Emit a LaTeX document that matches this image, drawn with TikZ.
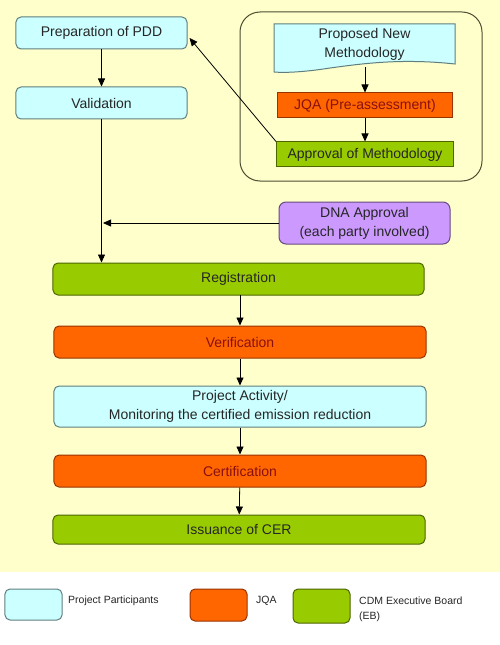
\documentclass[tikz,border=0pt]{standalone}
\usepackage{fontspec}
\setmainfont{Liberation Sans}
\usetikzlibrary{arrows.meta,calc}
\definecolor{bgc}{HTML}{FFFFCC}
\definecolor{pblue}{HTML}{CCFFFF}
\definecolor{pblueb}{HTML}{5F7F7F}
\definecolor{porange}{HTML}{FF6600}
\definecolor{porangeb}{HTML}{993300}
\definecolor{pgreen}{HTML}{99CC00}
\definecolor{pgreenb}{HTML}{4D6600}
\definecolor{ppurple}{HTML}{CC99FF}
\definecolor{ppurpleb}{HTML}{664C80}
\definecolor{redtext}{HTML}{8A1010}
\definecolor{cont}{HTML}{4D4D33}
\tikzset{
  box/.style={draw, line width=1bp, rounded corners=5bp, inner sep=0pt, align=center,
    font=\fontsize{14bp}{19bp}\selectfont, text=black!85},
  bluebox/.style={box, fill=pblue, draw=pblueb},
  orangebox/.style={box, fill=porange, draw=porangeb, text=redtext},
  greenbox/.style={box, fill=pgreen, draw=pgreenb},
  purplebox/.style={box, fill=ppurple, draw=ppurpleb, rounded corners=7bp},
  sharp/.style={rounded corners=0pt},
  arr/.style={line width=0.8bp, -{Triangle[length=8bp,width=7bp]}},
  legtext/.style={font=\fontsize{10.5bp}{15bp}\selectfont, text=black!85, inner sep=0pt, align=left},
}
\begin{document}
\begin{tikzpicture}[x=1bp,y=-1bp]
\useasboundingbox (0,0) rectangle (500,645);
\fill[white] (0,0) rectangle (500,645);
\fill[bgc] (0,0) rectangle (500,572);
% container
\draw[cont, line width=1bp, rounded corners=20bp] (240,12) rectangle (482,181);
% document shape
\draw[pblueb, fill=pblue, line width=1bp] (274,24) -- (455,24) -- (455,64)
  .. controls (400,58) and (360,64) .. (330,68)
  .. controls (305,72) and (285,73) .. (274,72) -- cycle;
\node[box, draw=none, minimum width=181bp, minimum height=40bp] (doc) at (364.5,44) {Proposed New\\Methodology};
\coordinate (docbot) at (365,67);
\node[orangebox, sharp, minimum width=175bp, minimum height=25bp] (jqa) at (365,105.5) {JQA (Pre-assessment)};
\node[greenbox, sharp, minimum width=177bp, minimum height=25bp] (appr) at (365,154.5) {Approval of Methodology};
% left column
\node[bluebox, minimum width=171bp, minimum height=32bp] (prep) at (101.5,33) {Preparation of PDD};
\node[bluebox, minimum width=171bp, minimum height=32bp] (valid) at (101.5,103) {Validation};
\node[purplebox, minimum width=171bp, minimum height=42bp] (dna) at (364.5,223) {DNA Approval\\(each party involved)};
\node[greenbox, minimum width=371bp, minimum height=32bp] (reg) at (238.5,279) {Registration};
\node[orangebox, minimum width=372bp, minimum height=32bp] (verif) at (240,342) {Verification};
\node[bluebox, minimum width=372bp, minimum height=41bp] (proj) at (240,406.5) {Project Activity/\\Monitoring the certified emission reduction};
\node[orangebox, minimum width=372bp, minimum height=32bp] (cert) at (240,471) {Certification};
\node[greenbox, minimum width=372bp, minimum height=29bp] (iss) at (239,529.5) {Issuance of CER};
% connectors
\draw[arr] (prep) -- (valid);
\draw[arr] (valid.south) -- (valid.south |- reg.north);
\coordinate (join) at (valid.south |- dna.west);
\draw[arr] (dna.west) -- ([xshift=1.5bp]join);
\draw[arr] (docbot) -- (docbot |- jqa.north);
\draw[arr] (jqa) -- (appr);
\draw[arr] (appr.north west) -- ([xshift=2bp,yshift=-5bp]prep.east);
\coordinate (regout) at (240,295);
\draw[arr] (regout) -- (regout |- verif.north);
\draw[arr] (verif) -- (proj);
\draw[arr] (proj) -- (cert);
\draw[arr] (cert) -- (iss);
% legend
\node[bluebox, minimum width=57bp, minimum height=31bp] (lpp) at (33.5,604.5) {};
\node[legtext, anchor=west] (lpptext) at (68,601) {Project Participants};
\node[orangebox, minimum width=57bp, minimum height=32bp] (ljqa) at (218.5,605) {};
\node[legtext, anchor=west] (ljqatext) at (256,601) {JQA};
\node[greenbox, minimum width=57bp, minimum height=34bp] (lcdm) at (321.5,606) {};
\node[legtext, anchor=west] (lcdmtext) at (359,609.5) {CDM Executive Board\\(EB)};
\end{tikzpicture}
\end{document}
